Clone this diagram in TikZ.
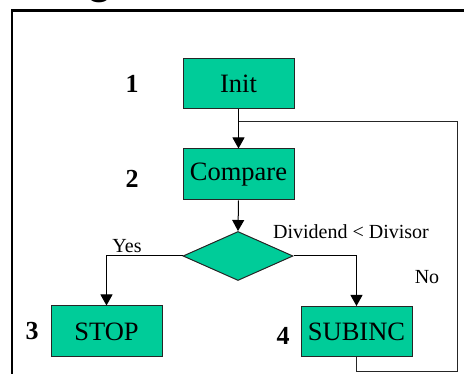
\documentclass[tikz,border=0pt]{standalone}
\usepackage{fontspec}
\setmainfont{Liberation Serif}
\newfontfamily\headfont{Liberation Sans}
\usetikzlibrary{arrows.meta,shapes.geometric}
\definecolor{boxgreen}{RGB}{0,204,153}
\tikzset{
  stepbox/.style={draw=black!85, line width=1pt, fill=boxgreen, inner sep=0pt,
    font=\fontsize{26.5}{28}\selectfont},
  decision/.style={diamond, draw=black!85, line width=1pt, fill=boxgreen, inner sep=0pt},
  numlabel/.style={font=\fontsize{26}{28}\selectfont\bfseries, inner sep=0pt},
  edgelabel/.style={font=\fontsize{20}{22}\selectfont, inner sep=0pt},
  flow/.style={draw=black, line width=1pt, -{Triangle[length=11pt,width=12pt]}},
  loopline/.style={draw=black!85, line width=1pt},
}
\begin{document}
\begin{tikzpicture}[x=1pt,y=-1pt]
\useasboundingbox (0,0) rectangle (464,374);
\begin{scope}
\clip (0,0) rectangle (464,374);
% title fragment above the frame
\node[anchor=base west, inner sep=0pt, font=\fontsize{44}{44}\selectfont\headfont\bfseries] (title) at (86,-6.5) {g};
% frame
\draw[line width=2.2pt] (12,10.5) rectangle (480,390);
\end{scope}

% process steps
\node[stepbox, minimum width=111pt, minimum height=50pt] (init) at (238.5,84) {Init};
\node[stepbox, minimum width=111pt, minimum height=51pt] (cmp) at (238.5,174.5) {Compare};
\node[decision, minimum width=110pt, minimum height=49pt, aspect=2.25] (dec) at (238,256) {};
\node[stepbox, minimum width=111pt, minimum height=51pt] (stop) at (106.5,331.5) {STOP};
\node[stepbox, minimum width=111pt, minimum height=50pt] (sub) at (356.5,331.5) {SUBINC};

% step numbers
\node[numlabel] (n1) at (132,84) {1};
\node[numlabel] (n2) at (132,179) {2};
\node[numlabel] (n3) at (32,331) {3};
\node[numlabel] (n4) at (283,336) {4};

% branch labels
\node[edgelabel] (yes) at (127,246) {Yes};
\node[edgelabel] (cond) at (351,232) {Dividend < Divisor};
\node[edgelabel] (no) at (427,277) {No};

% connectors
\coordinate (j) at (init.south |- 0,122);
\draw[flow] (init.south) -- (cmp.north);
\draw[flow] (cmp.south) -- (dec.north);
\draw[flow] (dec.west) -| (stop.north);
\draw[flow] (dec.east) -| (sub.north);
\coordinate (lb) at (457.5,371.5);
\draw[loopline] (sub.south) |- (lb) |- (j);
\end{tikzpicture}
\end{document}
